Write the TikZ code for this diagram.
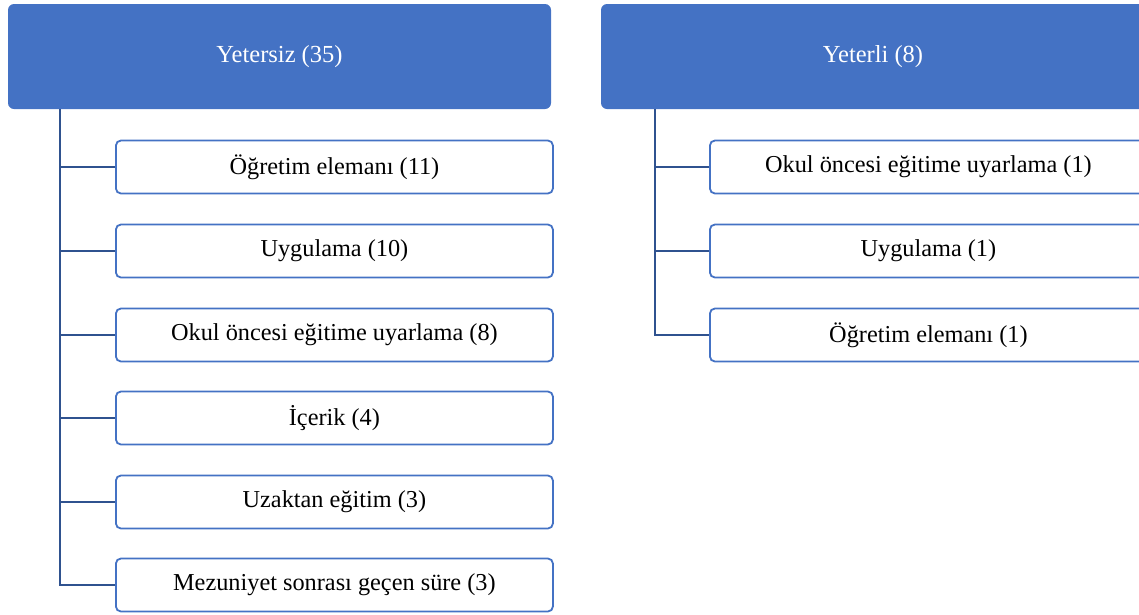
\documentclass[tikz,border=0pt]{standalone}
\usepackage{fontspec}
\setmainfont{Liberation Serif}
\definecolor{hdr}{HTML}{4472C4}
\definecolor{conn}{HTML}{2F528F}
\begin{document}
\begin{tikzpicture}[x=1pt,y=-1pt,
  header/.style={draw=none,fill=hdr,rounded corners=6pt},
  htext/.style={text=white,font=\fontsize{24.5}{28}\selectfont},
  child/.style={draw=hdr,line width=1.8pt,fill=white,rounded corners=5pt,font=\fontsize{24.3}{28}\selectfont},
  link/.style={draw=conn,line width=1.8pt}]
\useasboundingbox (0,0) rectangle (1139,614);
\clip (0,0) rectangle (1139,614);
% left tree
\path[header] (8,4) rectangle (551,109);
\node[htext] (L) at (279.5,57) {Yetersiz (35)};
\coordinate (Ltop) at (60,109);
\coordinate (Lbot) at (60,585);
\foreach \i/\yc/\t in {1/167/{Öğretim elemanı (11)},2/251/{Uygulama (10)},3/335/{Okul öncesi eğitime uyarlama (8)},4/418/{İçerik (4)},5/502/{Uzaktan eğitim (3)},6/585/{Mezuniyet sonrası geçen süre (3)}}{
  \coordinate (lc\i) at (60,\yc);
  \node[child,minimum width=437pt,minimum height=53pt,anchor=west] (l\i) at (115,\yc) {\t};
  \draw[link] (lc\i) -- (l\i.west);
}
\draw[link] (Ltop) -- (Lbot) -- (l6.west);
% right tree
\path[header] (601,4) rectangle (1150,109);
\node[htext] (R) at (873,57) {Yeterli (8)};
\coordinate (Rtop) at (655,109);
\coordinate (Rbot) at (655,335);
\foreach \i/\yc/\t in {1/167/{Okul öncesi eğitime uyarlama (1)},2/251/{Uygulama (1)},3/335/{Öğretim elemanı (1)}}{
  \coordinate (rc\i) at (655,\yc);
  \node[child,minimum width=437pt,minimum height=53pt,anchor=west] (r\i) at (709,\yc) {\t};
  \draw[link] (rc\i) -- (r\i.west);
}
\draw[link] (Rtop) -- (Rbot) -- (r3.west);
\end{tikzpicture}
\end{document}
